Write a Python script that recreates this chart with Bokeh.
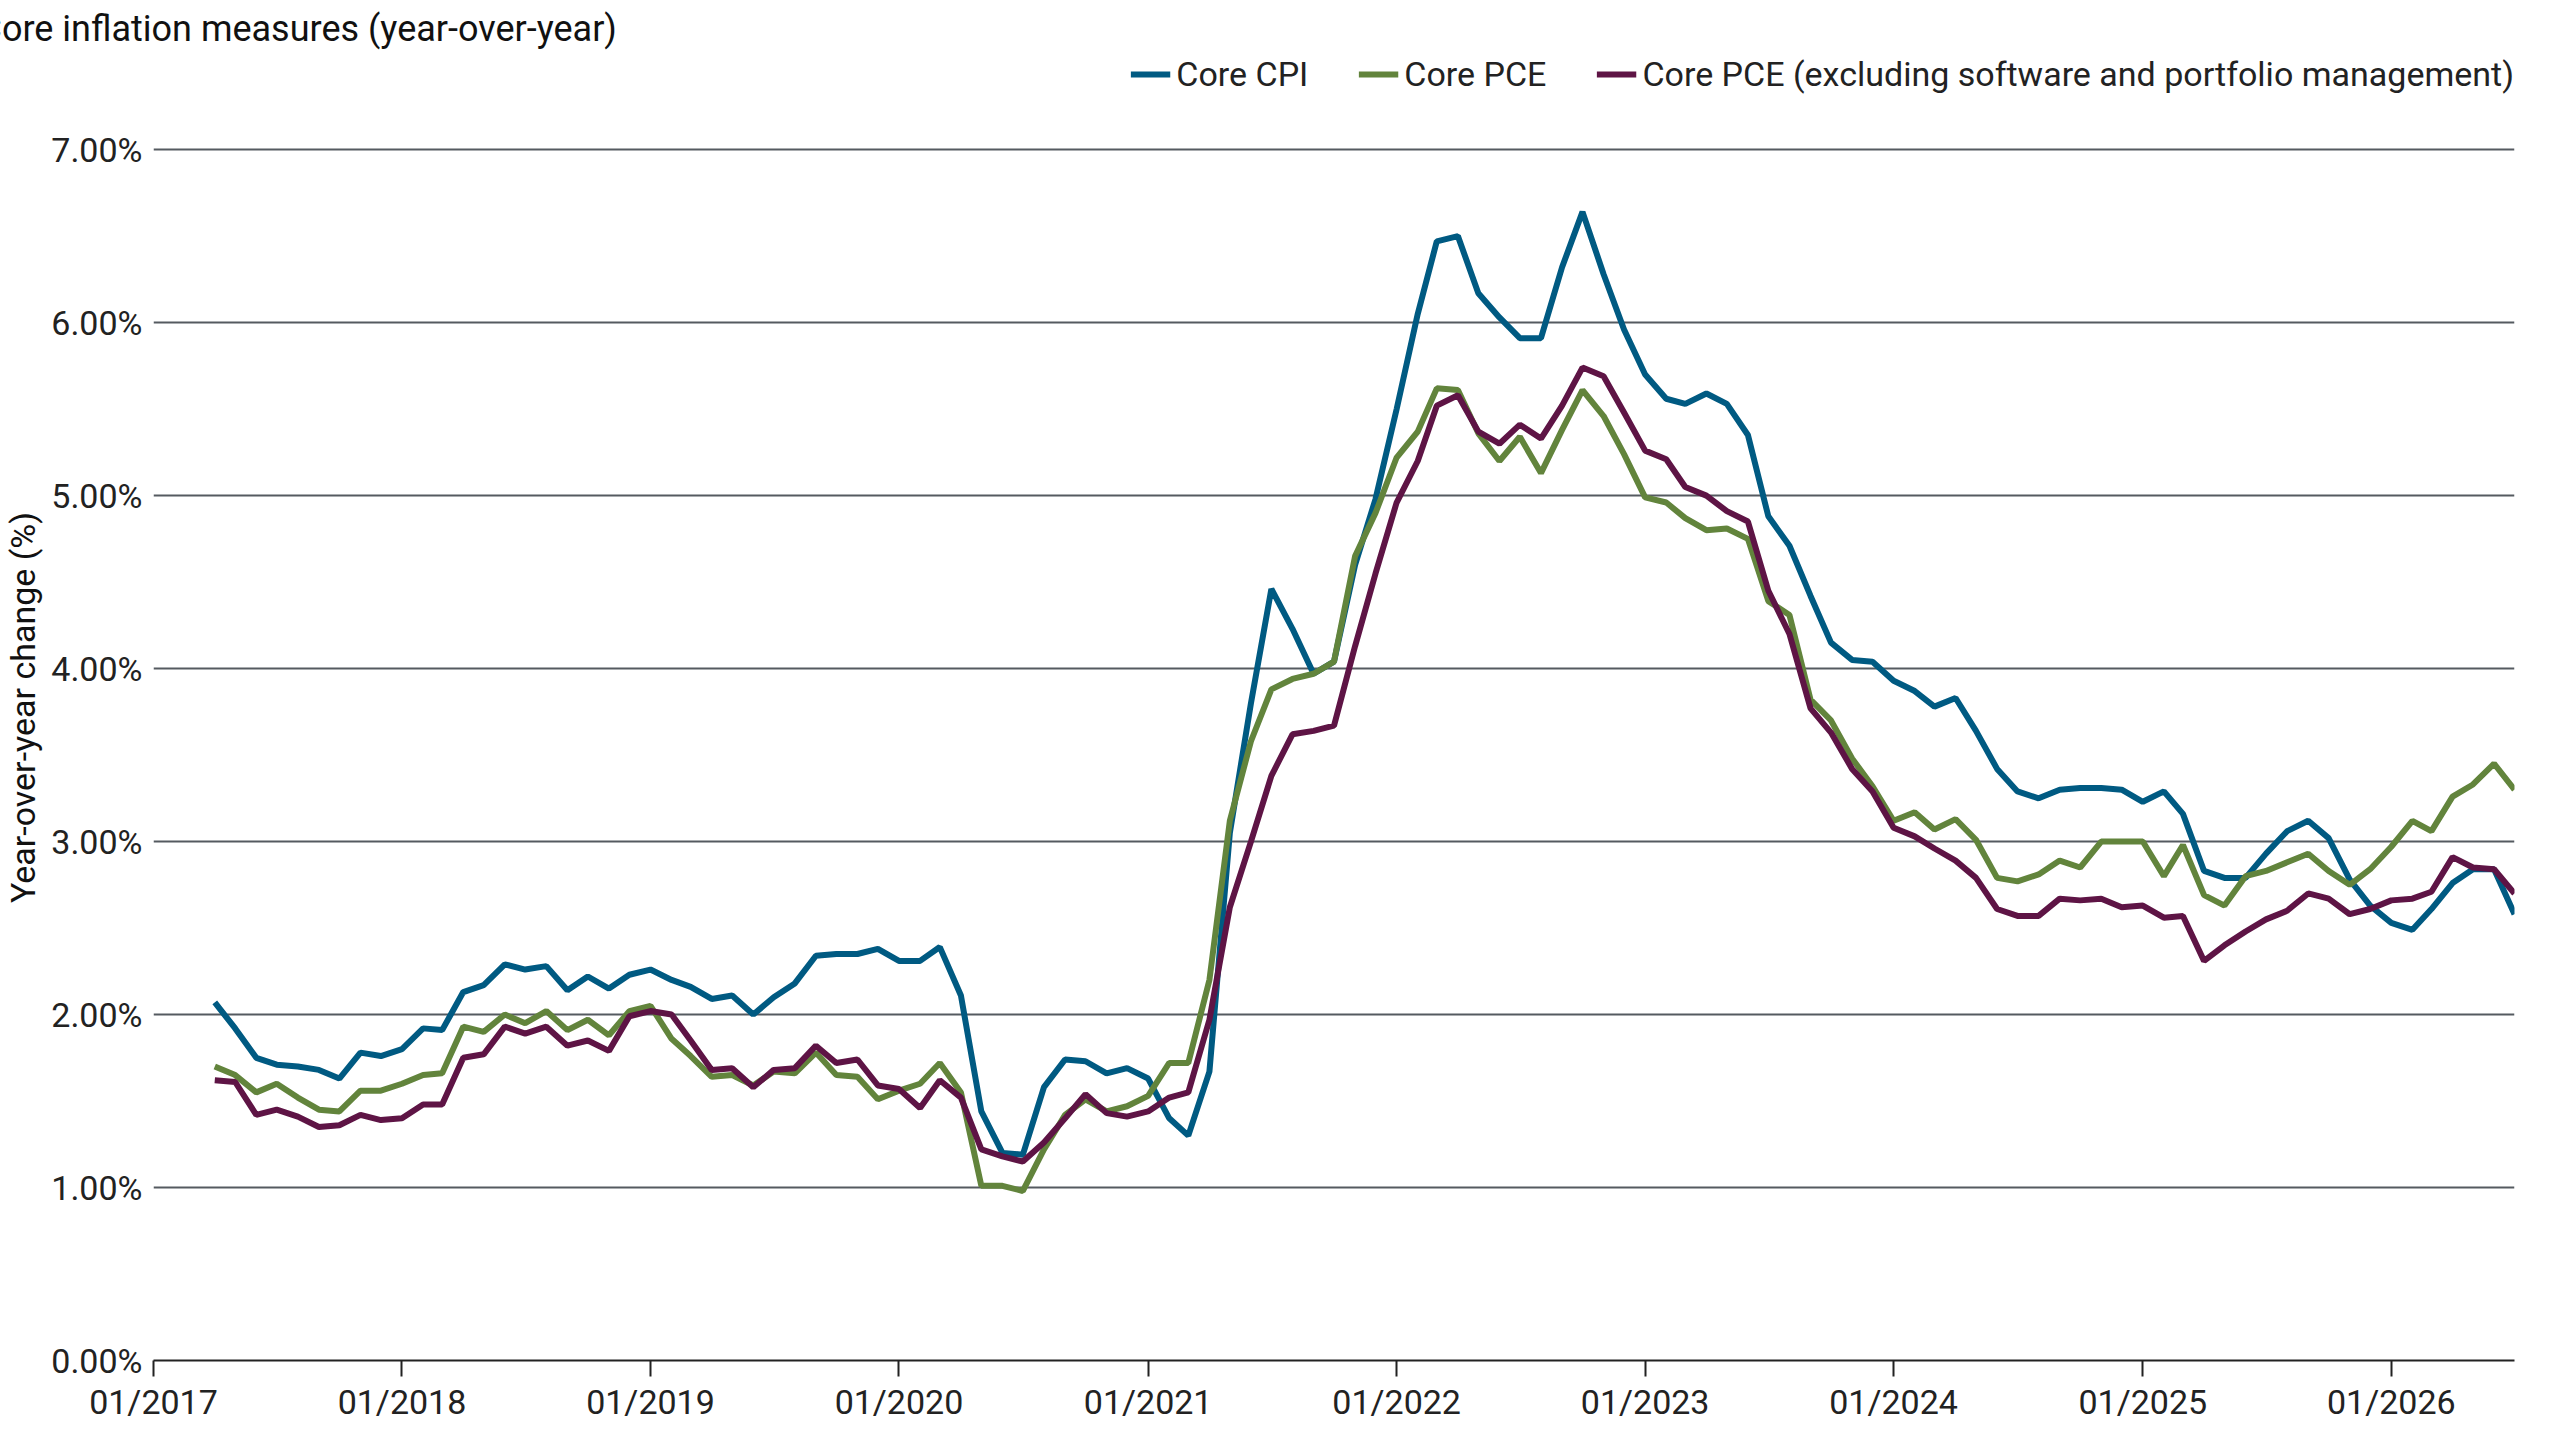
import pandas as pd
from bokeh.plotting import figure
from bokeh.models import Legend, LegendItem, FixedTicker, PrintfTickFormatter, DatetimeTickFormatter, Range1d
from bokeh.embed import file_html
from bokeh.resources import INLINE

core_cpi = [2.07, 1.92, 1.75, 1.71, 1.70, 1.68, 1.63, 1.78, 1.76,
            1.80, 1.92, 1.91, 2.13, 2.17, 2.29, 2.26, 2.28, 2.14, 2.22, 2.15, 2.23,
            2.26, 2.20, 2.16, 2.09, 2.11, 2.00, 2.10, 2.18, 2.34, 2.35, 2.35, 2.38,
            2.31, 2.31, 2.39, 2.11, 1.44, 1.20, 1.19, 1.58, 1.74, 1.73, 1.66, 1.69,
            1.63, 1.40, 1.30, 1.67, 3.05, 3.80, 4.46, 4.23, 3.97, 4.04, 4.60, 4.98,
            5.50, 6.05, 6.47, 6.50, 6.17, 6.03, 5.91, 5.91, 6.32, 6.64, 6.28, 5.96,
            5.70, 5.56, 5.53, 5.59, 5.53, 5.35, 4.88, 4.71, 4.42, 4.15, 4.05, 4.04,
            3.93, 3.87, 3.78, 3.83, 3.64, 3.42, 3.29, 3.25, 3.30, 3.31, 3.31, 3.30,
            3.23, 3.29, 3.16, 2.83, 2.79, 2.79, 2.93, 3.06, 3.12, 3.02, 2.78, 2.63,
            2.53, 2.49, 2.61, 2.76, 2.84, 2.84, 2.58]
core_pce = [1.70, 1.65, 1.55, 1.60, 1.52, 1.45, 1.44, 1.56, 1.56,
            1.60, 1.65, 1.66, 1.93, 1.90, 2.00, 1.95, 2.02, 1.91, 1.97, 1.88, 2.02,
            2.05, 1.86, 1.76, 1.64, 1.65, 1.59, 1.67, 1.66, 1.78, 1.65, 1.64, 1.51,
            1.56, 1.60, 1.72, 1.55, 1.01, 1.01, 0.98, 1.22, 1.42, 1.51, 1.44, 1.47,
            1.53, 1.72, 1.72, 2.20, 3.12, 3.58, 3.88, 3.94, 3.97, 4.04, 4.65, 4.90,
            5.22, 5.37, 5.62, 5.61, 5.36, 5.20, 5.34, 5.13, 5.38, 5.61, 5.46, 5.24,
            4.99, 4.96, 4.87, 4.80, 4.81, 4.75, 4.39, 4.31, 3.82, 3.70, 3.48, 3.32,
            3.12, 3.17, 3.07, 3.13, 3.01, 2.79, 2.77, 2.81, 2.89, 2.85, 3.00, 3.00,
            3.00, 2.80, 2.98, 2.69, 2.63, 2.80, 2.83, 2.88, 2.93, 2.83, 2.75, 2.84,
            2.97, 3.12, 3.06, 3.26, 3.33, 3.45, 3.30]
core_pce_ex = [1.62, 1.61, 1.42, 1.45, 1.41, 1.35, 1.36, 1.42, 1.39,
               1.40, 1.48, 1.48, 1.75, 1.77, 1.93, 1.89, 1.93, 1.82, 1.85, 1.79, 1.99,
               2.02, 2.00, 1.85, 1.68, 1.69, 1.58, 1.68, 1.69, 1.82, 1.72, 1.74, 1.59,
               1.57, 1.46, 1.62, 1.52, 1.22, 1.18, 1.15, 1.26, 1.40, 1.54, 1.43, 1.41,
               1.44, 1.52, 1.55, 1.97, 2.62, 3.00, 3.38, 3.62, 3.64, 3.67, 4.13, 4.55,
               4.96, 5.20, 5.52, 5.58, 5.37, 5.30, 5.41, 5.33, 5.52, 5.74, 5.69, 5.48,
               5.26, 5.21, 5.05, 5.00, 4.91, 4.85, 4.45, 4.20, 3.77, 3.63, 3.42, 3.29,
               3.08, 3.03, 2.96, 2.89, 2.79, 2.61, 2.57, 2.57, 2.67, 2.66, 2.67, 2.62,
               2.63, 2.56, 2.57, 2.31, 2.40, 2.48, 2.55, 2.60, 2.70, 2.67, 2.58, 2.61,
               2.66, 2.67, 2.71, 2.91, 2.85, 2.84, 2.70]
dates = pd.date_range("2017-04-01", periods=len(core_cpi), freq="MS")
year_ticks = pd.date_range("2017-01-01", "2026-01-01", freq="YS")
y_ticks = [0, 1, 2, 3, 4, 5, 6, 7]

FONT = "Roboto"

p = figure(width=2544, height=1424, x_axis_type="datetime", output_backend="svg",
           toolbar_location=None, title="Core inflation measures (year-over-year)",
           x_range=Range1d(year_ticks[0], dates[-1]), y_range=Range1d(0, 7.55))
p.min_border_left = 40
p.min_border_right = 30
p.min_border_top = 10
p.min_border_bottom = 20
p.outline_line_color = None
p.title.text_font = FONT
p.title.text_font_size = "36px"
p.title.text_font_style = "normal"
p.title.text_color = "#111111"
p.title.offset = -175

colors = ["#005A82", "#62843C", "#5E1445"]
names = ["Core CPI", "Core PCE", "Core PCE (excluding software and portfolio management)"]
items = []
for ys, c, n in zip([core_cpi, core_pce, core_pce_ex], colors, names):
    r = p.line(dates, ys, line_color=c, line_width=6)
    items.append(LegendItem(label=n, renderers=[r]))

leg = Legend(items=items, orientation="horizontal", location="top_right",
             label_text_font=FONT, label_text_font_size="34px", label_text_color="#222222",
             glyph_width=40, spacing=50, border_line_color=None, background_fill_alpha=0,
             padding=0, margin=0, label_standoff=6)
p.add_layout(leg)

p.xaxis.ticker = FixedTicker(ticks=[t.value // 10**6 for t in year_ticks])
p.xaxis.formatter = DatetimeTickFormatter(months="%m/%Y", years="%m/%Y", days="%m/%Y")
p.xaxis.axis_line_color = "#222222"
p.xaxis.axis_line_width = 2
p.xaxis.major_tick_line_color = "#222222"
p.xaxis.major_tick_line_width = 2
p.xaxis.major_tick_out = 16
p.xaxis.major_tick_in = 0
p.xaxis.minor_tick_line_color = None
p.xaxis.major_label_text_font = FONT
p.xaxis.major_label_text_font_size = "34px"
p.xaxis.major_label_text_color = "#222222"

p.yaxis.ticker = FixedTicker(ticks=y_ticks)
p.yaxis.formatter = PrintfTickFormatter(format="%.2f%%")
p.yaxis.axis_line_color = None
p.yaxis.major_tick_line_color = None
p.yaxis.minor_tick_line_color = None
p.yaxis.major_label_text_font = FONT
p.yaxis.major_label_text_font_size = "34px"
p.yaxis.major_label_text_color = "#222222"
p.yaxis.axis_label = "Year-over-year change (%)"
p.yaxis.axis_label_text_font = FONT
p.yaxis.axis_label_text_font_size = "34px"
p.yaxis.axis_label_text_font_style = "normal"
p.yaxis.axis_label_text_color = "#111111"

p.xgrid.grid_line_color = None
p.ygrid.grid_line_color = "#555a60"
p.ygrid.grid_line_width = 2

open("out.html", "w").write(file_html(p, INLINE))
